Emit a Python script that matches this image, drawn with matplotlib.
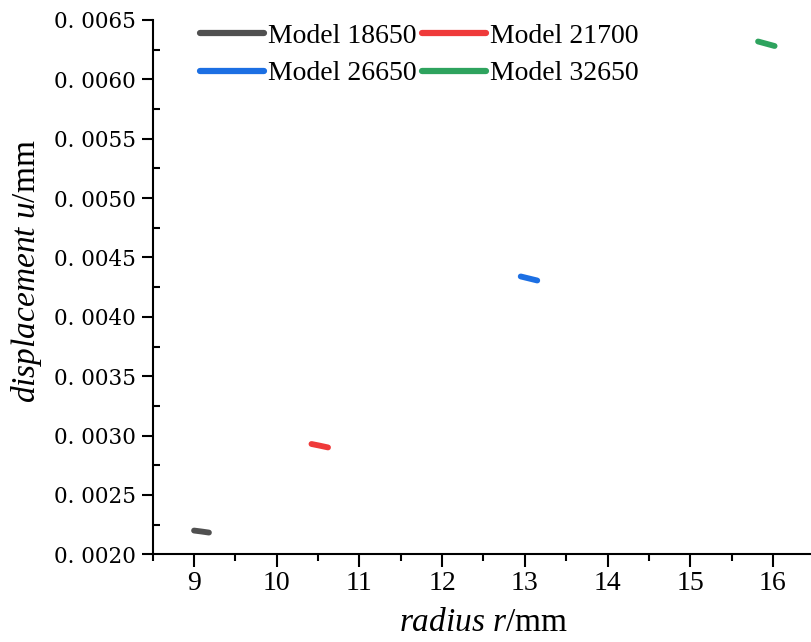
import matplotlib
matplotlib.use("Agg")
import matplotlib.pyplot as plt
from matplotlib.ticker import MultipleLocator, FuncFormatter

# Data
models = ["Model 18650", "Model 21700", "Model 26650", "Model 32650"]
colors = ["#505050", "#ef3a3a", "#1c6fe3", "#2ea35e"]
r_18650 = [9.00, 9.09, 9.18]
u_18650 = [0.002200, 0.002192, 0.002183]
r_21700 = [10.42, 10.52, 10.62]
u_21700 = [0.002929, 0.002915, 0.002900]
r_26650 = [12.95, 13.05, 13.15]
u_26650 = [0.004340, 0.004323, 0.004306]
r_32650 = [15.82, 15.92, 16.02]
u_32650 = [0.006319, 0.006300, 0.006281]
xs = [r_18650, r_21700, r_26650, r_32650]
ys = [u_18650, u_21700, u_26650, u_32650]

plt.rcParams["mathtext.fontset"] = "custom"
plt.rcParams["mathtext.rm"] = "Liberation Serif"
plt.rcParams["mathtext.it"] = "Liberation Serif:italic"
plt.rcParams["font.family"] = ["Liberation Serif", "DejaVu Serif"]

fig = plt.figure(figsize=(8.11, 6.42), dpi=100)
W, H = 811, 642
left_px, right_px = 152.7, 814.3
top_px, bot_px = 20.0, 554.3
ax = fig.add_axes([left_px / W, (H - bot_px) / H, (right_px - left_px) / W, (bot_px - top_px) / H])

lines = []
for x, y, c, lab in zip(xs, ys, colors, models):
    ln, = ax.plot(x, y, color=c, lw=4.2, solid_capstyle="round", label=lab)
    lines.append(ln)

ax.set_xlim(8.5, 16.5)
ax.set_ylim(0.0020, 0.0065)
ax.xaxis.set_major_locator(MultipleLocator(1))
ax.xaxis.set_minor_locator(MultipleLocator(0.5))
ax.yaxis.set_major_locator(MultipleLocator(0.0005))
ax.yaxis.set_minor_locator(MultipleLocator(0.00025))
ax.yaxis.set_major_formatter(FuncFormatter(lambda v, p: "0. " + f"{v:.4f}"[2:]))

for s in ["top", "right"]:
    ax.spines[s].set_visible(False)
for s in ["left", "bottom"]:
    ax.spines[s].set_linewidth(1.5)

ax.tick_params(axis="x", which="major", direction="out", length=9, width=1.5, pad=3, labelsize=20)
ax.tick_params(axis="x", which="minor", direction="out", length=5, width=1.5)
ax.tick_params(axis="y", which="major", direction="out", length=8, width=1.5, pad=4, labelsize=15.5)
ax.tick_params(axis="y", which="minor", direction="in", length=5, width=1.5)
for t in ax.get_yticklabels():
    t.set_fontfamily("DejaVu Serif")

ax.set_xlabel(r"$radius\ r$/mm", fontsize=24, labelpad=8)
ax.set_ylabel(r"$displacement\ u$/mm", fontsize=24)
ax.yaxis.set_label_coords(-0.165, 0.53)

order = [0, 2, 1, 3]
leg = ax.legend([lines[i] for i in order], [models[i] for i in order],
                loc="upper left", bbox_to_anchor=(0.055, 1.015), ncol=2, frameon=False,
                fontsize=20, handlelength=2.3, handletextpad=0.15, columnspacing=0.2,
                labelspacing=0.45, borderaxespad=0)
for h in leg.get_lines():
    h.set_linewidth(4.5)

fig.savefig("out.png", dpi=100)
